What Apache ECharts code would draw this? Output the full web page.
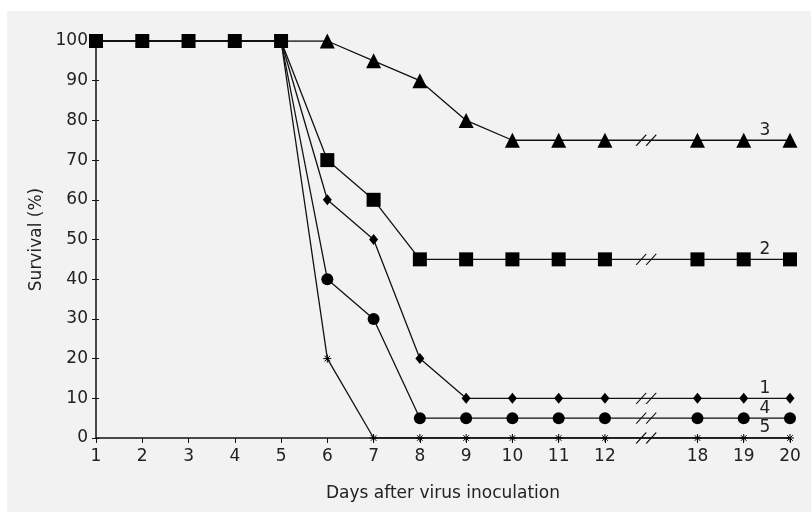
<!DOCTYPE html>
<html><head><meta charset="utf-8">
<script src="https://cdn.jsdelivr.net/npm/echarts@6/dist/echarts.min.js"></script>
<style>html,body{margin:0;padding:0;background:#fff}#c{width:811px;height:512px}</style>
</head><body><div id="c"></div>
<script>
var days = ['1','2','3','4','5','6','7','8','9','10','11','12','','18','19','20'];
var yTicks = [0,10,20,30,40,50,60,70,80,90,100];
var s1 = [100,100,100,100,100,60,50,20,10,10,10,10,null,10,10,10];
var s2 = [100,100,100,100,100,70,60,45,45,45,45,45,null,45,45,45];
var s3 = [100,100,100,100,100,100,95,90,80,75,75,75,null,75,75,75];
var s4 = [100,100,100,100,100,40,30,5,5,5,5,5,null,5,5,5];
var s5 = [100,100,100,100,100,20,0,0,0,0,0,0,null,0,0,0];
var seriesNames = ['1','2','3','4','5'];
var breakIndex = 12;
var lastIndex = 15;

var FONT = '"DejaVu Sans", sans-serif';
var asterisk = 'path://M0,5 L10,5 M5,0 L5,10 M1.5,1.5 L8.5,8.5 M8.5,1.5 L1.5,8.5';
var breakSym = 'path://M0,10 L7,0 M7,10 L14,0';

function mk(name, data, symbol, size, hideFirst, extraItem, z) {
  var d = data.map(function(v, i){
    if (hideFirst && i < 5) return {value: v, symbol: 'none'};
    return v;
  });
  var last = data[lastIndex];
  return {
    name: name, type: 'line', data: d, connectNulls: true,
    symbol: symbol, symbolSize: size, z: z,
    lineStyle: {color: '#111', width: 1.3},
    itemStyle: Object.assign({color: '#000'}, extraItem || {}),
    markPoint: {
      silent: true,
      data: [
        {coord: [breakIndex, data[breakIndex-1]], symbol: breakSym, symbolSize: [20, 11], symbolOffset: [-5, 0],
         itemStyle: {color: 'rgba(0,0,0,0)', borderColor: '#111', borderWidth: 1}, label: {show: false}},
        {coord: [lastIndex, last], symbol: 'circle', symbolSize: 0,
         label: {show: true, formatter: name, offset: [-25, -10], color: '#222', fontSize: 17, fontFamily: FONT}}
      ]
    }
  };
}

var chart = echarts.init(document.getElementById('c'));
chart.setOption({
  backgroundColor: '#ffffff',
  animation: false,
  graphic: [{type: 'rect', shape: {x: 7, y: 11, width: 804, height: 501}, style: {fill: '#f2f2f2'}, z: -10, silent: true}],
  grid: {left: 96, right: 21, top: 41, bottom: 74},
  xAxis: {
    type: 'category', data: days, boundaryGap: false,
    name: 'Days after virus inoculation', nameLocation: 'middle', nameGap: 47,
    nameTextStyle: {fontSize: 17, color: '#222', fontFamily: FONT},
    axisLine: {lineStyle: {color: '#111', width: 1.5}},
    axisTick: {show: true, length: 5, lineStyle: {color: '#111'}, interval: function(i, v){ return v !== ''; }},
    axisLabel: {fontSize: 17, color: '#222', fontFamily: FONT, margin: 10, interval: 0},
    splitLine: {show: false}
  },
  yAxis: [{
    type: 'value', min: 0, max: 100, interval: 10,
    name: 'Survival (%)', nameLocation: 'middle', nameGap: 49,
    nameTextStyle: {fontSize: 17, color: '#222', fontFamily: FONT},
    axisLine: {show: true, lineStyle: {color: '#111', width: 1.5}},
    axisTick: {show: true, length: 4, lineStyle: {color: '#111'}},
    axisLabel: {fontSize: 17, color: '#222', fontFamily: FONT, margin: 8,
      formatter: function(v){ return yTicks.indexOf(v) >= 0 ? String(v) : ''; }},
    splitLine: {show: false}
  },{
    type: 'value', min: 0, max: 100, interval: 10, position: 'left',
    axisLine: {show: false}, axisLabel: {show: false}, splitLine: {show: false},
    axisTick: {show: true, inside: true, length: 3, lineStyle: {color: '#111'}}
  }],
  series: [
    mk(seriesNames[0], s1, 'diamond', [9, 11], true, null, 3),
    mk(seriesNames[1], s2, 'rect', 14, false, null, 6),
    mk(seriesNames[2], s3, 'triangle', 15, true, null, 4),
    mk(seriesNames[3], s4, 'circle', 12, true, null, 5),
    mk(seriesNames[4], s5, asterisk, 8, true, {borderColor: '#000', borderWidth: 1}, 2)
  ]
});
</script></body></html>
